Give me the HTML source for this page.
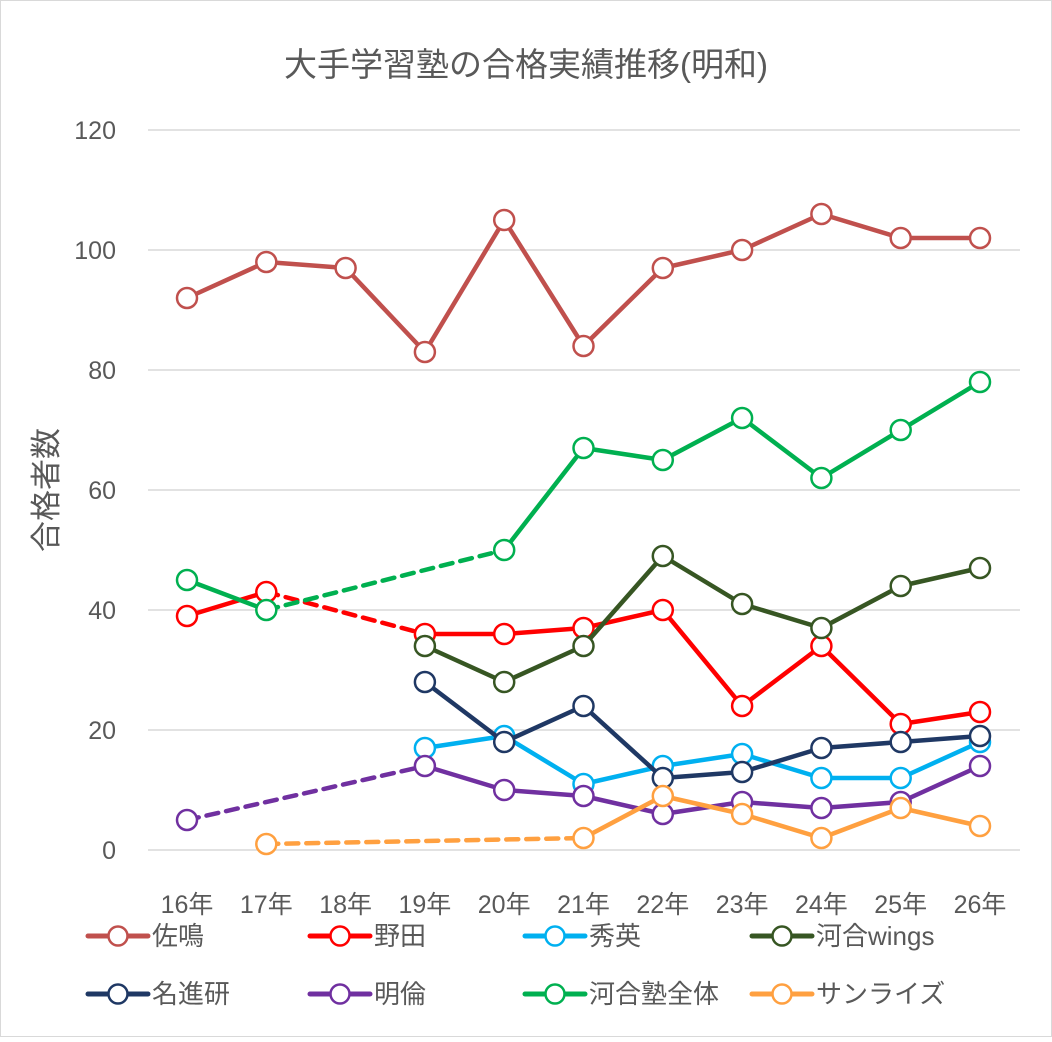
<!DOCTYPE html>
<html><head><meta charset="utf-8"><style>
body{margin:0;background:#fff}
svg text{font-family:"Liberation Sans","Noto Sans CJK JP",sans-serif;fill:#595959}
</style></head><body>
<svg id="chart" width="1052" height="1037" xmlns="http://www.w3.org/2000/svg">
<rect x="0.5" y="0.5" width="1051" height="1036" fill="#fff" stroke="#d9d9d9"/>
<text x="526" y="76" font-size="33" text-anchor="middle">大手学習塾の合格実績推移(明和)</text>
<text transform="translate(57,490) rotate(-90)" font-size="31" text-anchor="middle">合格者数</text>
<g id="grid"></g><g id="series"></g><g id="legend"></g>
</svg>
<script>
const categories=["16年","17年","18年","19年","20年","21年","22年","23年","24年","25年","26年"];
const yTicks=[0,20,40,60,80,100,120];
const names=["佐鳴","野田","秀英","河合wings","名進研","明倫","河合塾全体","サンライズ"];
const colors=["#c0504d","#ff0000","#00b0f0","#375623","#1f3864","#7030a0","#00b050","#ffa040"];
const sanaru=[92,98,97,83,105,84,97,100,106,102,102];
const noda=[39,43,null,36,36,37,40,24,34,21,23];
const shuei=[null,null,null,17,19,11,14,16,12,12,18];
const wings=[null,null,null,34,28,34,49,41,37,44,47];
const meishinken=[null,null,null,28,18,24,12,13,17,18,19];
const meirin=[5,null,null,14,10,9,6,8,7,8,14];
const kawai=[45,40,null,null,50,67,65,72,62,70,78];
const sunrise=[null,1,null,null,null,2,9,6,2,7,4];
const seriesData=[sanaru,noda,shuei,wings,meishinken,meirin,kawai,sunrise];
const NS="http://www.w3.org/2000/svg";
const xS=i=>187+i*79.3, yS=v=>850-v*6;
function mk(t,a,p){const e=document.createElementNS(NS,t);for(const k in a)e.setAttribute(k,a[k]);p.appendChild(e);return e;}
const grid=document.getElementById('grid');
yTicks.forEach(v=>{
 const l=mk('line',{x1:148,x2:1020,y1:yS(v),y2:yS(v),stroke:'#d9d9d9','stroke-width':1.5},grid);
 
 
 const t=mk('text',{x:116,y:yS(v)+9,'font-size':25,'text-anchor':'end'},grid);t.textContent=v;
 
 
});
categories.forEach((c,i)=>{
 const t=mk('text',{x:xS(i),y:913,'font-size':25,'text-anchor':'middle'},grid);t.textContent=c;
 
 
});
const sg=document.getElementById('series');
seriesData.forEach((d,s)=>{
 const g=mk('g',{},sg);
 
 
 let prev=-1;
 d.forEach((v,i)=>{
  if(v==null)return;
  if(prev>=0){
   const a={x1:xS(prev),y1:yS(d[prev]),x2:xS(i),y2:yS(v),stroke:colors[s],'stroke-width':4.5,'stroke-linecap':'round'};
   if(i-prev>1)a['stroke-dasharray']='12 8';
   const l=mk('line',a,g);
   
   
  }
  prev=i;
 });
 d.forEach((v,i)=>{
  if(v==null)return;
  const c=mk('circle',{cx:xS(i),cy:yS(v),r:10,fill:'#fff',stroke:colors[s],'stroke-width':2.5},g);
  
  
 });
});
const lg=document.getElementById('legend');
const colX=[88,310,525,752], rowY=[936,994];
names.forEach((n,s)=>{
 const x=colX[s%4],y=rowY[Math.floor(s/4)];
 const g=mk('g',{},lg);
 
 
 mk('line',{x1:x,x2:x+60,y1:y,y2:y,stroke:colors[s],'stroke-width':5,'stroke-linecap':'round'},g);
 mk('circle',{cx:x+30,cy:y,r:9.5,fill:'#fff',stroke:colors[s],'stroke-width':2.5},g);
 const t=mk('text',{x:x+64,y:y+9,'font-size':26},g);t.textContent=n;
});
</script>
</body></html>
